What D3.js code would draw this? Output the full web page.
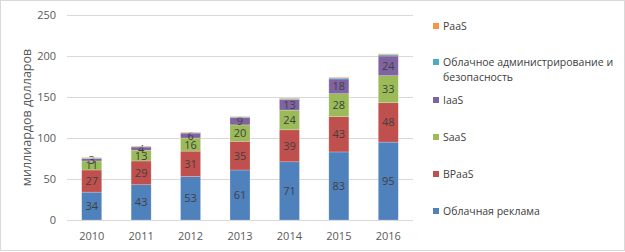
<!DOCTYPE html>
<html>
<head>
<meta charset="utf-8">
<script src="https://cdn.jsdelivr.net/npm/d3@7"></script>
<style>
    body { margin: 0; background: #fff; }
    svg { font-family: 'Open Sans', 'DejaVu Sans', sans-serif; }
    .axis-y-text, .axis-x-text { fill: #595959; font-size: 11px; }
    .axis-title { fill: #595959; font-size: 12.5px; }
    .seg-label { fill: #404040; font-size: 11px; }
    .legend-label { fill: #404040; font-size: 10.5px; }
</style>
</head>
<body>
<div id="chart"></div>
<script>
// Chart values
const years = ['2010', '2011', '2012', '2013', '2014', '2015', '2016'];
const seriesNames = ['Облачная реклама', 'BPaaS', 'SaaS', 'IaaS', 'Облачное администрирование и безопасность', 'PaaS'];
const advertising = [34, 43, 53, 61, 71, 83, 95];
const bpaas = [27, 29, 31, 35, 39, 43, 48];
const saas = [11, 13, 16, 20, 24, 28, 33];
const iaas = [3, 4, 6, 9, 13, 18, 24];
const management = [0.6, 0.6, 0.5, 0.8, 1.0, 1.2, 1.7];
const paas = [0.7, 0.6, 0.5, 0.6, 0.8, 0.8, 1.0];
const yTicks = [0, 50, 100, 150, 200, 250];
const yTitle = 'миллиардов долларов';

const colors = ['#4F81BD', '#C0504D', '#9BBB59', '#8064A2', '#4BACC6', '#F79646'];
const labeled = [true, true, true, true, false, false];

const width = 625, height = 252;
const margins = { left: 67, right: 212, top: 15, bottom: 32 };

const svg = d3.select('#chart').append('svg')
    .attr('width', width)
    .attr('height', height);

// Outer border
svg.append('rect')
    .attr('x', 0.5).attr('y', 0.5)
    .attr('width', width - 1).attr('height', height - 2)
    .attr('fill', 'none')
    .attr('stroke', '#D9D9D9');

const rows = years.map((y, i) => ({
    year: y,
    s0: advertising[i], s1: bpaas[i], s2: saas[i],
    s3: iaas[i], s4: management[i], s5: paas[i]
}));
const keys = ['s0', 's1', 's2', 's3', 's4', 's5'];
const stacked = d3.stack().keys(keys)(rows);

const scaleX = d3.scaleBand()
    .domain(years)
    .range([margins.left, width - margins.right])
    .paddingInner(0.595)
    .paddingOuter(0.2975);

const scaleY = d3.scaleLinear()
    .domain([0, 250])
    .range([height - margins.bottom, margins.top]);

// Gridlines
svg.append('g').selectAll('line')
    .data(yTicks)
    .join('line')
    .attr('x1', margins.left)
    .attr('x2', width - margins.right)
    .attr('y1', d => Math.round(scaleY(d)) + 0.5)
    .attr('y2', d => Math.round(scaleY(d)) + 0.5)
    .attr('stroke', '#D9D9D9');

// Y axis labels
svg.append('g').selectAll('text')
    .data(yTicks)
    .join('text')
    .classed('axis-y-text', true)
    .attr('x', 56)
    .attr('y', d => scaleY(d))
    .attr('dy', '0.35em')
    .attr('text-anchor', 'end')
    .text(d => d);

// Y axis title
svg.append('text')
    .classed('axis-title', true)
    .attr('transform', `translate(27, ${scaleY(125)}) rotate(-90)`)
    .attr('dy', '0.35em')
    .attr('text-anchor', 'middle')
    .text(yTitle);

// X axis labels
svg.append('g').selectAll('text')
    .data(years)
    .join('text')
    .classed('axis-x-text', true)
    .attr('x', d => scaleX(d) + scaleX.bandwidth() / 2)
    .attr('y', 240)
    .attr('text-anchor', 'middle')
    .text(d => d);

// Stacked bars
const layers = svg.append('g').selectAll('g')
    .data(stacked)
    .join('g')
    .attr('fill', (d, i) => colors[i]);

layers.selectAll('rect')
    .data(d => d)
    .join('rect')
    .attr('x', d => scaleX(d.data.year))
    .attr('width', scaleX.bandwidth())
    .attr('y', d => scaleY(d[1]))
    .attr('height', d => scaleY(d[0]) - scaleY(d[1]))
    .attr('stroke', 'rgba(255,255,255,0.35)')
    .attr('stroke-width', 0.6);

// Segment labels
layers.filter((d, i) => labeled[i])
    .selectAll('text')
    .data(d => d)
    .join('text')
    .classed('seg-label', true)
    .attr('x', d => scaleX(d.data.year) + scaleX.bandwidth() / 2)
    .attr('y', d => scaleY((d[0] + d[1]) / 2))
    .attr('dy', '0.36em')
    .attr('text-anchor', 'middle')
    .text(d => d[1] - d[0]);

// Legend (reverse order)
const legendY = [26, 62, 100, 137, 174, 211];
const legendItems = seriesNames.map((name, i) => ({ name, color: colors[i] })).reverse();

const legend = svg.append('g').selectAll('g')
    .data(legendItems)
    .join('g')
    .attr('transform', (d, i) => `translate(433, ${legendY[i]})`);

legend.append('rect')
    .attr('x', 0).attr('y', -3)
    .attr('width', 6).attr('height', 6)
    .attr('fill', d => d.color);

legend.append('text')
    .classed('legend-label', true)
    .attr('x', 10)
    .attr('dy', '0.35em')
    .each(function (d) {
        const t = d3.select(this);
        if (d.name.length > 30) {
            t.append('tspan').attr('x', 10).text('Облачное администрирование и');
            t.append('tspan').attr('x', 10).attr('dy', '1.45em').text('безопасность');
        } else {
            t.text(d.name);
        }
    });
</script>
</body>
</html>
